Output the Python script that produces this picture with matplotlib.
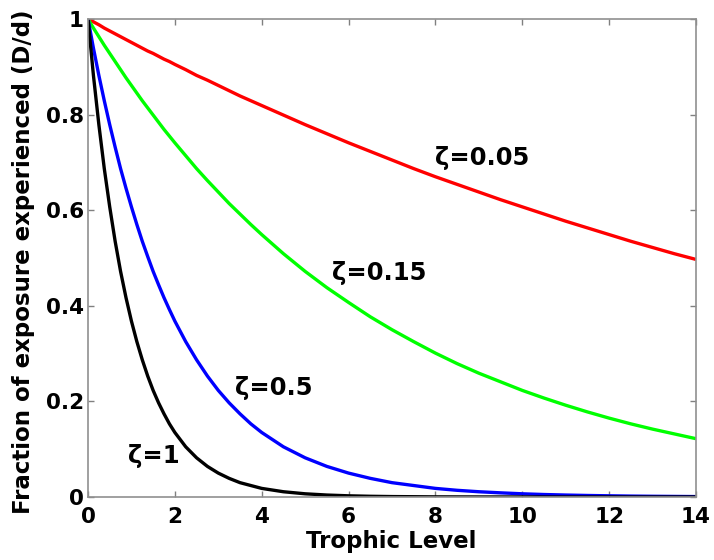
import matplotlib
matplotlib.use("Agg")
import matplotlib.pyplot as plt

plt.rcParams['font.family'] = ['DejaVu Sans']
plt.rcParams['font.weight'] = 'bold'

# Trophic level sample points (denser near the origin where curves are steep)
trophic = [0, 0.125, 0.25, 0.375, 0.5, 0.625, 0.75, 0.875, 1, 1.125, 1.25, 1.375,
           1.5, 1.625, 1.75, 1.875, 2, 2.25, 2.5, 2.75, 3, 3.25, 3.5, 3.75, 4,
           4.5, 5, 5.5, 6, 6.5, 7, 7.5, 8, 8.5, 9, 9.5, 10, 10.5, 11, 11.5, 12,
           12.5, 13, 13.5, 14]

# Fraction of exposure experienced for each zeta
frac_z005 = [1, .994, .988, .981, .975, .969, .963, .957, .951, .945, .939, .933,
             .928, .922, .916, .911, .905, .894, .882, .872, .861, .850, .839, .829,
             .819, .799, .779, .760, .741, .723, .705, .687, .670, .654, .638, .622,
             .607, .592, .577, .563, .549, .535, .522, .509, .497]
frac_z015 = [1, .981, .963, .945, .928, .911, .894, .877, .861, .845, .829, .814,
             .799, .784, .769, .755, .741, .714, .687, .662, .638, .614, .592, .570,
             .549, .509, .472, .438, .407, .377, .350, .325, .301, .279, .259, .241,
             .223, .207, .192, .178, .165, .153, .142, .132, .122]
frac_z05 = [1, .939, .882, .829, .779, .732, .687, .646, .607, .570, .535, .503,
            .472, .444, .417, .392, .368, .325, .287, .253, .223, .197, .174, .153,
            .135, .105, .082, .064, .050, .039, .030, .024, .018, .014, .011, .0087,
            .0067, .0052, .0041, .0032, .0025, .0019, .0015, .0012, .0009]
frac_z1 = [1, .882, .779, .687, .607, .535, .472, .417, .368, .325, .287, .253,
           .223, .197, .174, .153, .135, .105, .082, .064, .050, .039, .030, .024,
           .018, .011, .0067, .0041, .0025, .0015, .0009, .0006, .0003, .0002,
           .0001, .0001, .0001, 0, 0, 0, 0, 0, 0, 0, 0]

series = [
    (frac_z005, '#ff0000', 'ζ=0.05', (8.0, 0.695)),
    (frac_z015, '#00ff00', 'ζ=0.15', (5.62, 0.454)),
    (frac_z05, '#0000ff', 'ζ=0.5', (3.38, 0.213)),
    (frac_z1, '#000000', 'ζ=1', (0.92, 0.071)),
]

x_ticks = [0, 2, 4, 6, 8, 10, 12, 14]
y_ticks = [0, 0.2, 0.4, 0.6, 0.8, 1]
y_tick_labels = ['0', '0.2', '0.4', '0.6', '0.8', '1']

W, H = 714, 560
fig = plt.figure(figsize=(W / 100, H / 100), dpi=100)
ax = fig.add_axes([88 / W, 1 - 497 / H, (696 - 88) / W, (497 - 19) / H])

for vals, color, label, (lx, ly) in series:
    ax.plot(trophic, vals, color=color, linewidth=2.4,
            solid_capstyle='butt', solid_joinstyle='round')
    ax.text(lx, ly, label, fontsize=17.5, fontweight='bold',
            ha='left', va='baseline')

ax.set_xlim(0, 14)
ax.set_ylim(0, 1)
ax.set_xticks(x_ticks)
ax.set_yticks(y_ticks)
ax.set_yticklabels(y_tick_labels)
ax.tick_params(direction='in', top=True, right=True, length=4, width=1,
               color='#808080', labelsize=15.5)
ax.tick_params(axis='x', pad=7.5)
ax.tick_params(axis='y', pad=3)
for lab in ax.get_xticklabels() + ax.get_yticklabels():
    lab.set_fontweight('bold')
for sp in ax.spines.values():
    sp.set_color('#909090')
    sp.set_linewidth(1.2)

fig.text(391 / W, 1 - 548 / H, 'Trophic Level', fontsize=16.5,
         fontweight='bold', ha='center', va='baseline')
fig.text(24 / W, 1 - 262 / H, 'Fraction of exposure experienced (D/d)',
         fontsize=16.5, fontweight='bold', rotation=90, ha='center', va='center')

fig.savefig('out.png', dpi=100)
